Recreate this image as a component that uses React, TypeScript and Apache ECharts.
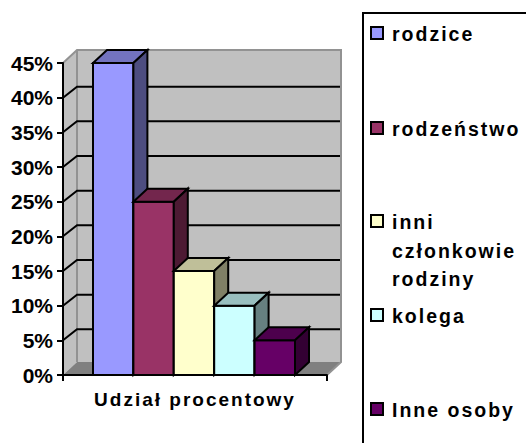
import React, { useEffect, useRef } from "react";
import * as echarts from "echarts";

const categories = ["Udział procentowy"];
const seriesNames = ["rodzice", "rodzeństwo", "inni członkowie rodziny", "kolega", "Inne osoby"];
const seriesValues = [45, 25, 15, 10, 5];
const frontColors = ["#9999FF", "#993366", "#FFFFCC", "#CCFFFF", "#660066"];
const topColors = ["#7373BF", "#73264D", "#BFBF99", "#99BFBF", "#4D004D"];
const sideColors = ["#4D4D80", "#4D1A33", "#808066", "#668080", "#330033"];
const legendLines = [["rodzice"], ["rodzeństwo"], ["inni", "członkowie", "rodziny"], ["kolega"], ["Inne osoby"]];
const legendY = [34, 129, 222, 316, 410];
const yTicks = [0, 5, 10, 15, 20, 25, 30, 35, 40, 45];

const DX = 14;
const DY = -13;
const GRID_DY = -11;
const BAR_W = 40.4;
const FONT = "Liberation Sans";
const SPACED = 2;

function wallsItem(_: any, api: any) {
  const [cx, y0] = api.coord([0, 0]);
  const size = api.size([1, 0]);
  const left = cx - size[0] / 2;
  const right = cx + size[0] / 2;
  const [, yT] = api.coord([0, 45]);
  const children: any[] = [
    { type: "polygon", shape: { points: [[left, y0], [left + DX, y0 + DY], [left + DX, yT + DY], [left, yT]] }, style: { fill: "#C0C0C0", stroke: "none" } },
    { type: "polygon", shape: { points: [[left + DX, y0 + DY], [right + DX, y0 + DY], [right + DX, yT + DY], [left + DX, yT + DY]] }, style: { fill: "#C0C0C0", stroke: "none" } },
    { type: "polygon", shape: { points: [[left, y0], [right, y0], [right + DX, y0 + DY], [left + DX, y0 + DY]] }, style: { fill: "#808080", stroke: "none" } },
    { type: "polyline", shape: { points: [[left, yT], [left + DX, yT + DY], [right + DX, yT + DY], [right + DX, y0 + DY], [right, y0]] }, style: { fill: "none", stroke: "#929292", lineWidth: 2 } },
    { type: "line", shape: { x1: left + DX, y1: y0 + DY, x2: left + DX, y2: yT + DY }, style: { stroke: "#929292", lineWidth: 2 } },
  ];
  yTicks.forEach((v) => {
    if (v === 0 || v === 45) return;
    const [, y] = api.coord([0, v]);
    children.push({ type: "polyline", shape: { points: [[left, y], [left + DX, y + GRID_DY], [right + DX - 1, y + GRID_DY]] }, style: { fill: "none", stroke: "#000", lineWidth: 2 } });
  });
  return { type: "group", children };
}

function barItem(index: number) {
  return (_: any, api: any) => {
    const [cx, y0] = api.coord([0, 0]);
    const [, yV] = api.coord([0, api.value(1)]);
    const l = cx - 102 + index * BAR_W;
    const r = l + BAR_W;
    const border = { stroke: "#000", lineWidth: 2, lineJoin: "miter" };
    return {
      type: "group",
      children: [
        { type: "polygon", shape: { points: [[l, y0], [r, y0], [r, yV], [l, yV]] }, style: { fill: frontColors[index], ...border } },
        { type: "polygon", shape: { points: [[l, yV], [r, yV], [r + DX, yV + DY], [l + DX, yV + DY]] }, style: { fill: topColors[index], ...border } },
        { type: "polygon", shape: { points: [[r, y0], [r + DX, y0 + DY], [r + DX, yV + DY], [r, yV]] }, style: { fill: sideColors[index], ...border } },
      ],
    };
  };
}

export default function App() {
  const ref = useRef<HTMLDivElement>(null);
  useEffect(() => {
    const el = ref.current!;
    const chart = echarts.init(el, undefined, { renderer: "svg" });
    const legendGraphics: any[] = [
      { type: "rect", shape: { x: 363, y: 13, width: 180, height: 447 }, style: { fill: "#fff", stroke: "#000", lineWidth: 2 } },
    ];
    legendLines.forEach((lines, i) => {
      legendGraphics.push({
        type: "rect",
        shape: { x: 371, y: legendY[i] - 7, width: 12, height: 12 },
        style: { fill: frontColors[i], stroke: "#000", lineWidth: 2 },
      });
      lines.forEach((line, j) => {
        legendGraphics.push({
          type: "text",
          x: 392,
          y: legendY[i] + j * 28.5,
          style: { text: line, fontFamily: FONT, fontWeight: "bold", fontSize: 19.5, fill: "#000", verticalAlign: "middle", align: "left" },
        });
      });
    });
    chart.setOption({
      animation: false,
      backgroundColor: "#fff",
      graphic: legendGraphics,
      grid: { left: 63, right: 199, top: 63, bottom: 68, containLabel: false },
      xAxis: {
        type: "category",
        data: categories,
        z: 6,
        axisLine: { lineStyle: { color: "#000", width: 2 } },
        axisTick: { show: true, length: 6, lineStyle: { color: "#000", width: 2 } },
        axisLabel: { color: "#000", fontFamily: FONT, fontWeight: "bold", fontSize: 19, margin: 15 },
      },
      yAxis: {
        type: "value",
        min: 0,
        max: 45,
        interval: 5,
        z: 6,
        splitLine: { show: false },
        axisLine: { show: true, lineStyle: { color: "#000", width: 2 } },
        axisTick: { show: true, length: 6, lineStyle: { color: "#000", width: 2 } },
        axisLabel: { color: "#000", fontFamily: FONT, fontWeight: "bold", fontSize: 21, margin: 10, formatter: "{value}%" },
      },
      series: [
        { type: "custom", name: "walls", z: 1, silent: true, renderItem: wallsItem, data: [[0, 0]] },
        ...seriesNames.map((name, i) => ({
          type: "custom",
          name,
          z: 7,
          renderItem: barItem(i),
          encode: { x: 0, y: 1 },
          data: [[0, seriesValues[i]]],
        })),
      ],
    });
    const spaced = new Set(["Udział procentowy", ...legendLines.flat()]);
    el.querySelectorAll("text").forEach((t) => {
      if (spaced.has(t.textContent || "")) t.setAttribute("letter-spacing", String(SPACED));
    });
    return () => chart.dispose();
  }, []);
  return <div ref={ref} style={{ position: "fixed", left: 0, top: 0, width: 526, height: 443 }} />;
}
